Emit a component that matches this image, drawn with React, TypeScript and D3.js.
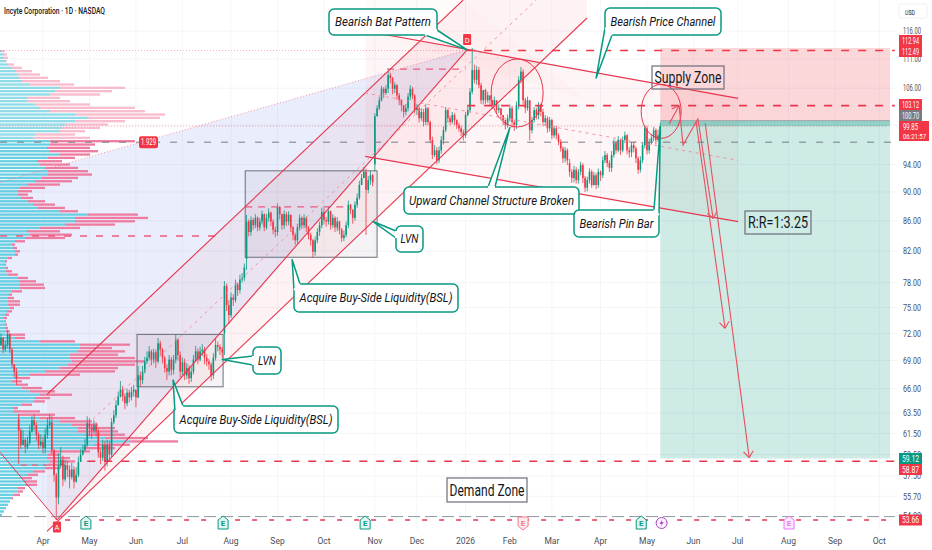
import React, { useEffect, useRef } from 'react'
import * as d3 from 'd3'

// daily closes, first bar sits 20 sessions before 1 Apr 2025
const firstBar = -20
const closes = [
  70.7,71.5,70.2,70.7,71.9,70.2,68.6,67.8,67.1,61.8,
  60.4,60.9,60.2,60.6,61.7,62.8,62.3,61.4,60.4,60.7,
  60.1,61.4,62.3,62.6,59.9,57.6,55.6,58.5,59.0,57.2,
  58.5,58.1,57.4,58.1,57.0,57.6,58.8,59.5,59.9,60.4,
  62.5,62.1,61.8,62.3,61.7,59.7,59.2,60.4,58.8,60.4,
  59.5,62.6,63.3,64.3,65.2,65.9,65.2,64.5,65.6,65.1,
  65.7,65.9,65.1,67.4,66.9,67.8,68.9,69.3,70.0,69.1,
  69.9,68.9,70.9,70.2,69.3,68.2,67.8,69.1,68.0,69.1,
  71.3,69.6,67.8,68.8,67.4,68.2,67.1,67.8,69.1,70.0,
  69.1,70.0,70.2,69.3,68.9,68.6,67.4,69.3,70.7,70.5,
  70.2,69.9,77.6,75.3,74.1,76.2,75.9,77.8,77.1,78.4,
  78.6,79.9,85.9,84.5,86.1,85.4,86.4,85.1,85.9,86.9,
  85.1,86.4,87.1,85.9,84.8,84.5,87.9,86.9,85.4,86.9,
  85.9,86.8,85.1,84.1,83.4,85.1,86.4,85.4,86.4,85.1,
  84.1,83.4,81.9,83.4,84.5,85.4,87.2,86.1,85.9,87.3,
  85.4,86.4,85.1,85.9,84.8,83.7,84.1,85.4,88.2,87.5,
  86.4,88.2,89.2,91.0,92.0,92.9,90.3,91.7,92.4,91.4,
  101.4,102.7,104.0,105.9,105.2,105.9,108.2,107.7,105.9,106.5,
  104.8,104.0,103.2,102.1,102.7,104.6,105.9,104.8,102.4,102.7,
  101.1,102.1,100.5,102.7,100.5,97.7,95.4,96.1,94.6,96.1,
  97.7,99.2,102.4,101.1,100.5,101.6,100.8,100.0,99.5,98.9,
  98.4,101.6,102.4,105.4,109.1,107.4,109.1,106.5,104.0,105.7,
  104.0,104.8,104.0,103.2,104.0,102.4,102.7,101.6,100.8,100.0,
  101.1,102.7,100.5,100.0,103.2,107.4,108.8,104.0,102.7,104.0,
  99.2,100.8,102.4,101.6,103.2,102.1,100.5,101.1,99.5,100.8,
  98.4,99.5,98.4,97.4,96.4,94.9,96.1,94.6,92.9,92.0,
  93.2,91.7,92.9,93.9,92.0,90.6,91.7,92.9,91.0,92.4,
  91.0,92.9,92.4,94.6,95.4,94.2,93.5,95.4,97.2,96.1,
  97.7,96.1,97.7,98.4,96.1,95.8,96.9,96.4,94.9,93.2,
  94.6,96.9,99.5,96.1,97.4,98.0,99.2,97.7,98.4,99.85,
]
const highs = [
  71.4,72.0,71.6,71.2,72.4,72.0,70.4,68.6,68.2,63.4,
  62.0,61.8,61.0,61.2,62.3,63.2,63.4,62.6,61.6,61.4,
  61.2,62.0,63.0,63.4,63.2,60.0,57.8,59.6,60.2,59.4,
  59.0,58.9,58.5,58.7,58.4,58.3,59.3,60.0,60.4,61.0,
  63.2,63.0,62.4,62.8,62.6,62.0,60.0,60.9,60.8,60.9,
  60.8,63.0,63.8,64.8,65.7,66.8,66.3,65.5,66.0,65.9,
  66.2,66.4,65.9,68.4,67.8,68.4,69.4,70.0,70.6,70.2,
  70.3,70.2,71.5,71.2,70.4,69.5,68.6,69.6,69.4,69.6,
  71.9,71.5,70.0,69.3,69.2,68.7,68.5,68.3,69.6,70.6,
  70.3,70.5,70.8,70.5,69.7,69.2,68.8,69.8,71.5,71.1,
  70.8,70.5,78.2,77.9,75.9,76.8,76.6,78.4,78.0,79.0,
  79.2,80.4,86.8,86.2,86.6,86.4,86.9,86.6,86.4,87.4,
  87.0,86.9,87.7,87.3,86.2,85.2,88.4,88.0,87.0,87.4,
  87.2,87.3,86.9,85.3,84.4,85.6,86.9,86.6,86.9,86.6,
  85.3,84.4,83.6,83.9,85.0,85.9,87.8,87.7,86.5,87.9,
  87.4,86.9,86.6,86.5,86.0,85.0,84.7,85.9,88.8,88.3,
  87.6,88.7,89.8,91.6,92.6,93.6,93.4,92.3,93.0,92.6,
  101.9,103.2,104.6,106.4,106.2,106.5,108.9,108.6,107.9,107.0,
  106.7,105.2,104.2,103.2,103.4,105.2,106.5,106.2,105.0,103.4,
  103.0,102.7,102.6,103.4,102.9,100.7,98.2,96.9,96.6,96.7,
  98.3,99.8,102.9,102.6,101.5,102.1,101.9,100.9,100.4,99.9,
  99.3,102.1,103.0,106.0,112.94,110.0,109.8,109.6,106.9,105.3,
  105.9,105.4,104.8,104.0,104.6,104.0,103.3,102.6,101.4,100.9,
  101.7,103.3,103.1,100.9,103.8,108.0,109.6,109.2,104.4,104.6,
  104.0,101.3,102.9,102.8,103.7,103.5,102.6,101.6,101.4,101.3,
  101.0,99.9,99.9,98.7,97.8,96.7,96.6,96.4,94.8,93.3,
  93.8,93.6,93.3,94.4,94.2,92.3,92.2,93.4,93.2,92.9,
  92.7,93.4,93.1,95.2,96.0,95.7,94.6,96.0,97.8,97.6,
  98.3,97.9,98.2,99.0,98.6,96.6,97.4,97.4,96.7,95.2,
  95.2,97.4,100.0,99.9,97.9,98.6,99.7,99.5,99.3,100.4,
]
const lows = [
  70.2,70.6,69.8,70.0,70.4,69.8,68.2,67.2,66.4,58.6,
  60.0,60.4,59.6,60.0,60.4,61.6,61.8,60.8,60.0,60.2,
  59.6,59.6,61.0,62.0,59.5,57.0,53.66,55.0,58.2,56.6,
  57.0,57.4,56.4,57.2,56.4,56.9,57.4,58.8,59.4,59.8,
  60.2,61.2,61.0,61.5,61.2,59.2,58.6,58.9,58.0,58.4,
  58.9,59.2,62.4,63.0,64.4,65.1,64.7,63.9,64.2,64.6,
  64.8,65.2,64.1,65.0,66.2,66.5,67.6,68.6,69.0,68.5,
  68.7,68.2,68.7,69.5,68.7,67.7,66.9,67.4,67.4,67.5,
  68.7,69.0,67.2,67.4,66.9,67.0,66.5,66.7,67.5,68.9,
  68.6,68.9,69.5,68.6,68.4,68.0,66.8,67.0,69.0,70.0,
  69.6,69.3,69.6,74.6,73.1,73.8,75.2,75.6,76.4,76.7,
  78.0,78.2,79.6,83.9,84.0,84.8,85.0,84.6,84.7,85.5,
  84.6,84.8,85.9,85.3,84.2,83.8,84.0,86.2,84.8,84.9,
  85.3,85.4,84.5,83.4,82.8,83.0,84.7,84.9,85.0,84.5,
  83.5,82.7,81.1,81.4,83.0,84.0,85.0,85.5,85.2,85.5,
  84.8,85.0,84.5,84.6,84.2,83.2,83.3,83.8,85.0,86.9,
  85.6,86.0,87.8,88.9,91.2,92.0,84.1,89.8,91.0,90.8,
  93.0,101.4,102.4,103.8,104.4,104.9,105.2,106.8,105.0,105.2,
  104.1,103.2,102.2,101.2,101.6,102.2,104.0,104.2,101.9,101.6,
  100.4,100.7,99.8,100.0,100.0,97.2,94.8,95.1,94.0,94.2,
  95.6,97.0,98.9,100.4,100.0,100.2,100.0,99.4,99.0,98.3,
  97.6,98.0,101.4,102.0,105.0,106.8,106.6,106.0,103.4,103.3,
  103.4,103.6,103.0,102.6,103.2,101.8,101.9,101.0,100.0,99.3,
  99.6,100.6,99.6,99.1,99.4,102.5,106.8,103.3,101.9,102.3,
  97.6,98.7,100.4,100.9,100.9,101.4,99.9,99.9,98.8,99.0,
  97.8,98.0,97.8,96.9,95.9,94.2,94.3,93.9,92.2,91.3,
  91.4,91.2,91.2,92.4,91.3,90.0,90.1,91.2,90.6,90.9,
  90.4,90.6,91.6,92.0,94.2,93.6,92.9,92.9,95.0,95.6,
  95.8,95.4,95.8,97.2,95.5,95.0,95.1,95.8,94.2,92.6,
  92.8,94.2,96.4,95.5,95.6,97.0,97.5,97.0,97.4,97.9,
]
// bars that opened away from the previous close: array position -> open
const gapOpens: Record<number, number> = { 9: 62.9, 102: 72.0, 112: 81.0, 170: 94.0, 258: 94.2 }

// visible range volume profile, top row first
const profileUp = [
  2,4,4,5,8,12,16,18,20,22,30,60,55,50,27,27,35,40,50,75,88,75,65,62,60,35,33,50,50,47,
  50,60,48,37,40,46,48,48,42,35,28,20,18,18,21,28,33,38,60,88,75,75,65,40,27,30,25,15,12,13,
  15,15,8,5,5,6,6,8,18,20,20,20,12,9,8,8,8,10,7,5,4,5,5,5,6,7,15,40,80,80,
  78,70,70,72,68,60,45,30,15,12,16,22,30,40,35,34,22,13,13,18,40,60,72,78,78,85,105,130,95,85,
  50,48,47,50,48,45,33,28,22,25,25,18,18,14,12,10,8,6,4,2,
]
const profileTotal = [
  5,7,8,7,14,22,32,40,48,60,74,125,112,100,60,70,90,135,145,165,160,125,108,100,85,75,90,135,95,90,
  98,90,75,62,70,78,88,92,78,72,60,45,32,28,33,45,55,65,78,138,148,135,115,80,60,72,65,25,15,17,
  20,18,12,7,6,8,12,18,28,36,44,45,22,12,14,20,20,14,12,9,7,6,7,8,10,25,25,75,130,112,
  125,118,135,145,135,118,115,80,30,22,28,42,55,72,50,45,32,18,40,55,75,92,98,115,118,125,148,178,130,115,
  90,60,70,75,65,60,45,38,32,37,37,25,23,20,13,10,8,6,4,2,
]
const valueAreaStart = 27

const priceTicks = [116, 111, 106, 94, 90, 86, 82, 78, 75, 72, 69, 66, 63.5, 61.5, 59.5, 57.5, 55.7, 54]
const gridPrices = [116, 111, 106, 100, 94, 90, 86, 82, 78, 75, 72, 69, 66, 63.5, 61.5, 59.5, 57.5, 55.7]
const timeBars = [0, 21, 42, 63, 85, 106, 127, 150, 169, 191, 211, 230, 252, 273, 294, 314, 337, 358, 378]
const timeLabels = ['Apr', 'May', 'Jun', 'Jul', 'Aug', 'Sep', 'Oct', 'Nov', 'Dec', '2026', 'Feb', 'Mar', 'Apr', 'May', 'Jun', 'Jul', 'Aug', 'Sep', 'Oct']

const UP = '#089981'
const DOWN = '#f23645'
const LINE = '#e8364f'

const callouts = [
  { text: 'Bearish Bat Pattern', box: [329, 9, 108, 26], tl: 96, tip: [191.7, 112.6], base: [[425, 35], [437, 30]] },
  { text: 'Bearish Price Channel', box: [605, 8, 116, 27], tl: 105, tip: [250, 107.7], base: [[605, 28], [612, 35]] },
  { text: 'Acquire Buy-Side Liquidity(BSL)', box: [294, 284, 164, 28], tl: 153, tip: [112.6, 80.9], base: [[294, 290], [300, 284]] },
  { text: 'Acquire Buy-Side Liquidity(BSL)', box: [174, 406, 164, 27], tl: 153, tip: [58.8, 66.9], base: [[175, 412], [183, 406]] },
  { text: 'LVN', box: [396, 226, 27, 26], tl: 18, tip: [149.2, 85.9], base: [[396, 231], [396, 238]] },
  { text: 'LVN', box: [253, 347, 28, 27], tl: 18, tip: [81, 69.1], base: [[253, 356], [253, 365]] },
  { text: 'Upward Channel Structure Broken', box: [404, 187, 175, 27], tl: 165, tip: [211, 99.6], base: [[488, 187], [495, 187]] },
  { text: 'Bearish Pin Bar', box: [574, 210, 85, 27], tl: 74, tip: [279, 99.7], base: [[654, 210], [659, 215]] },
]
const zoneLabels = [
  { text: 'Supply Zone', box: [652, 66, 72, 23], tl: 67, fill: 'none' },
  { text: 'R:R=1:3.25', box: [745, 211, 66, 23], tl: 60, fill: 'none' },
  { text: 'Demand Zone', box: [447, 478, 80, 24], tl: 75, fill: '#fff' },
]
const priceTags = [
  { text: '112.94', y: 40.5, fill: DOWN },
  { text: '112.49', y: 51.5, fill: DOWN },
  { text: '103.12', y: 104.5, fill: DOWN },
  { text: '100.70', y: 115.5, fill: '#787b86' },
  { text: '59.12', y: 458.5, fill: UP },
  { text: '58.87', y: 469.5, fill: DOWN },
  { text: '53.66', y: 520, fill: DOWN },
]
const earnings = [
  { bar: 19.4, stroke: '#089981', fill: '#e3f4f1', flip: false },
  { bar: 81.4, stroke: '#089981', fill: '#e3f4f1', flip: false },
  { bar: 145.6, stroke: '#089981', fill: '#e3f4f1', flip: false },
  { bar: 217, stroke: '#f7768a', fill: '#fdecee', flip: true },
  { bar: 270.4, stroke: '#089981', fill: '#e3f4f1', flip: false },
  { bar: 337.2, stroke: '#e879f0', fill: '#fbeafd', flip: false },
]

const App: React.FC = () => {
  const ref = useRef<HTMLDivElement>(null)

  useEffect(() => {
    if (!ref.current) return
    document.body.style.margin = '0'
    const width = 932
    const height = 550
    const svg = d3.select(ref.current).append('svg')
      .attr('width', width).attr('height', height)
      .style('display', 'block').style('background', '#fff')
      .style('font-family', 'Roboto, sans-serif')

    const x = d3.scaleLinear().domain([0, 273]).range([43, 647])
    const y = d3.scaleLog().domain([116, 53.66]).range([31, 520])
    const chartRight = 897
    const pt = (p: number[]): [number, number] => [x(p[0]), y(p[1])]
    const poly = (pts: number[][], fill: string) =>
      svg.append('polygon').attr('points', pts.map(p => pt(p).join(',')).join(' ')).attr('fill', fill)
    const seg = (a: number[], b: number[], stroke: string, w = 1, dash?: string) =>
      svg.append('line').attr('x1', x(a[0])).attr('y1', y(a[1])).attr('x2', x(b[0])).attr('y2', y(b[1]))
        .attr('stroke', stroke).attr('stroke-width', w).attr('stroke-dasharray', dash ?? null)
    const hline = (price: number, b0: number, b1: number, stroke: string, w: number, dash: string) =>
      seg([b0, price], [b1, price], stroke, w, dash)

    // grid
    gridPrices.forEach(p => {
      svg.append('line').attr('x1', 0).attr('x2', chartRight).attr('y1', y(p)).attr('y2', y(p))
        .attr('stroke', '#f3f4f8').attr('stroke-width', 1)
    })
    timeBars.forEach(b => {
      svg.append('line').attr('x1', x(b)).attr('x2', x(b)).attr('y1', 0).attr('y2', 530)
        .attr('stroke', '#f5f6f9').attr('stroke-width', 1)
    })

    // bat pattern fill
    poly([[-19.4, 91.4], [191.7, 112.6], [6.3, 53.66], [-19.4, 59.7]], 'rgba(50,90,230,0.1)')
    // rising channel fill
    poly([[1.8, 65.4], [189.9, 121.8], [245.9, 121.8], [245.9, 118.4], [1.8, 52.7]], 'rgba(242,54,69,0.06)')
    // falling channel fill
    poly([[145.6, 121.8], [189.9, 121.8], [245.9, 104], [145.6, 116]], 'rgba(242,54,69,0.02)')
    poly([[145.6, 116], [314.2, 104.3], [314.2, 85.9], [145.6, 95.2]], 'rgba(242,54,69,0.05)')

    // volume profile
    const rows = d3.scaleBand<number>().domain(d3.range(profileTotal.length)).range([50, 517])
    const vol = d3.scaleLinear().domain([0, 178]).range([0, 178])
    profileTotal.forEach((t, i) => {
      const yy = rows(i)!
      const light = i < valueAreaStart
      svg.append('rect').attr('x', 0).attr('y', yy).attr('width', vol(profileUp[i])).attr('height', 2.3)
        .attr('fill', light ? '#8fdbe8' : '#68cfe2')
      svg.append('rect').attr('x', vol(profileUp[i])).attr('y', yy).attr('width', vol(t - profileUp[i])).attr('height', 2.3)
        .attr('fill', light ? '#f8bccd' : '#ee7ca1')
    })

    // long position tool
    const posL = x(279)
    const posR = 890
    svg.append('rect').attr('x', posL).attr('y', y(112.94)).attr('width', posR - posL).attr('height', y(100.7) - y(112.94)).attr('fill', 'rgba(242,54,69,0.2)')
    svg.append('rect').attr('x', posL).attr('y', y(100.7)).attr('width', posR - posL).attr('height', y(59.12) - y(100.7)).attr('fill', 'rgba(8,153,129,0.2)')
    svg.append('rect').attr('x', posL).attr('y', y(100.7)).attr('width', posR - posL).attr('height', y(99.85) - y(100.7)).attr('fill', 'rgba(8,153,129,0.3)')
    svg.append('line').attr('x1', posL).attr('x2', posR).attr('y1', y(100.7)).attr('y2', y(100.7)).attr('stroke', '#9aa0a6').attr('stroke-width', 1)

    // liquidity boxes
    ;[[42.5, 71.9, 81.4, 66.2], [91.4, 93.05, 151, 81.2]].forEach(b => {
      const [px0, py0] = pt([b[0], b[1]])
      const [px1, py1] = pt([b[2], b[3]])
      svg.append('rect').attr('x', px0).attr('y', py0).attr('width', px1 - px0).attr('height', py1 - py0)
        .attr('fill', 'rgba(110,90,110,0.07)').attr('stroke', '#6b6f7a').attr('stroke-width', 1)
    })

    // candles
    const bars = svg.append('g')
    closes.forEach((c, k) => {
      const o = gapOpens[k] ?? (k === 0 ? c : closes[k - 1])
      const cx = x(firstBar + k)
      const color = c >= o ? UP : DOWN
      bars.append('line').attr('x1', cx).attr('x2', cx)
        .attr('y1', y(Math.max(highs[k], o, c))).attr('y2', y(Math.min(lows[k], o, c)))
        .attr('stroke', color).attr('stroke-width', 0.8)
      const top = y(Math.max(o, c))
      bars.append('rect').attr('x', cx - 0.8).attr('y', top).attr('width', 1.6)
        .attr('height', Math.max(1, y(Math.min(o, c)) - top)).attr('fill', color)
    })

    // level lines
    hline(112.49, 191.7, 385, DOWN, 1.6, '8 9')
    hline(103.12, 191.7, 385, LINE, 1.6, '8 9')
    hline(58.87, 20, 385, LINE, 1.6, '8 9')
    hline(53.66, 10, 385, LINE, 1.6, '5 12')
    seg([-19.4, 53.95], [385, 53.95], '#787b86', 0.8, '12 5')
    hline(97.35, -19.4, 385, '#787b86', 1, '7 10')
    hline(83.95, -19.4, 79, '#ec5a7d', 1.5, '7 9')
    hline(109.25, 155.5, 191, '#ec5a7d', 1.2, '7 6')
    hline(87.9, 91.4, 136, '#ec5a7d', 1.2, '7 6')
    hline(58.5, -10, 2, '#ec5a7d', 1.2, '6 5')
    hline(112.49, -19.4, 191.7, DOWN, 0.6, '1 2').attr('opacity', 0.7)
    hline(99.85, -19.4, 382, DOWN, 0.6, '1 2').attr('opacity', 0.7)

    // pattern and channel lines
    seg([-19.4, 91.4], [191.7, 112.6], '#f0798c', 0.8, '1 2')
    seg([-19.4, 59.7], [6.3, 53.66], LINE, 1)
    seg([6.3, 53.66], [191.7, 112.6], LINE, 1.1)
    seg([1.8, 65.4], [189.9, 121.8], LINE, 1.1)
    seg([1.8, 52.7], [245.9, 118.4], LINE, 1.1)
    seg([22.6, 62.9], [222.9, 121.8], '#f08a9b', 0.9, '3 4')
    seg([145.6, 116], [314.2, 104.3], LINE, 1.2)
    seg([145.6, 95.2], [314.2, 85.9], LINE, 1.2)
    seg([145.6, 105.2], [314.2, 94.6], '#f08a9b', 0.9, '3 4')

    // circles
    ;[[214.3, 105.2, 26, 34], [279.4, 102.2, 20, 27]].forEach(c => {
      svg.append('ellipse').attr('cx', x(c[0])).attr('cy', y(c[1])).attr('rx', c[2]).attr('ry', c[3])
        .attr('fill', 'none').attr('stroke', LINE).attr('stroke-width', 1)
    })

    // projected path arrows
    const arrow = (pts: number[][]) => {
      const line = d3.line<number[]>().x(p => x(p[0])).y(p => y(p[1]))
      svg.append('path').attr('d', line(pts)).attr('fill', 'none').attr('stroke', '#e8505f').attr('stroke-width', 1.1)
      const [ax, ay] = pt(pts[pts.length - 2])
      const [bx, by] = pt(pts[pts.length - 1])
      const ang = Math.atan2(by - ay, bx - ax)
      ;[-0.65, 0.65].forEach(d => {
        svg.append('line').attr('x1', bx).attr('y1', by)
          .attr('x2', bx - 8 * Math.cos(ang + d)).attr('y2', by - 8 * Math.sin(ang + d))
          .attr('stroke', '#e8505f').attr('stroke-width', 1.1)
      })
    }
    arrow([[283, 100.2], [287.5, 103.1]])
    arrow([[287.5, 103.1], [289.3, 96.9], [296, 101], [302.9, 86.3]])
    arrow([[295.2, 100.5], [308.3, 72.6]])
    arrow([[299.3, 100.3], [319.2, 59.2]])

    // bottom event markers
    earnings.forEach(e => {
      const g = svg.append('g').attr('transform', `translate(${x(e.bar)},523)`)
      const d = e.flip ? 'M-5,-6H5V3L0,7L-5,3Z' : 'M0,-7L5,-3V6H-5V-3Z'
      g.append('path').attr('d', d).attr('fill', e.fill).attr('stroke', e.stroke).attr('stroke-width', 1)
      g.append('text').attr('text-anchor', 'middle').attr('y', 3).attr('font-size', 8).attr('font-weight', 700)
        .attr('fill', e.stroke).text('E')
    })
    const bolt = svg.append('g').attr('transform', `translate(${x(279.6)},523)`)
    bolt.append('circle').attr('r', 5.5).attr('fill', '#fbf0fd').attr('stroke', '#ab47bc').attr('stroke-width', 1)
    bolt.append('path').attr('d', 'M1,-4L-2,1H0L-1,4L2,-1H0Z').attr('fill', '#ab47bc')

    // pattern point tags
    ;[{ t: 'D', b: 191.7, yy: 39.5 }, { t: 'A', b: 6.3, yy: 527 }].forEach(l => {
      svg.append('rect').attr('x', x(l.b) - 4).attr('y', l.yy - 5.5).attr('width', 8).attr('height', 11).attr('rx', 1).attr('fill', DOWN)
      svg.append('text').attr('x', x(l.b)).attr('y', l.yy + 3).attr('text-anchor', 'middle').attr('font-size', 7.5).attr('fill', '#fff').text(l.t)
    })

    // poc value tag
    svg.append('rect').attr('x', 139).attr('y', y(97.35) - 6).attr('width', 19).attr('height', 12).attr('rx', 2).attr('fill', DOWN)
    svg.append('text').attr('x', 148.5).attr('y', y(97.35) + 3).attr('text-anchor', 'middle').attr('font-size', 8.5).attr('fill', '#fff')
      .attr('textLength', 15).attr('lengthAdjust', 'spacingAndGlyphs').text('1.929')

    // teal callouts
    callouts.forEach(c => {
      const [bx, by, bw, bh] = c.box
      const [tx, ty] = pt(c.tip)
      svg.append('rect').attr('x', bx).attr('y', by).attr('width', bw).attr('height', bh).attr('rx', 5)
        .attr('fill', '#fff').attr('stroke', UP).attr('stroke-width', 1.5)
      svg.append('path').attr('d', `M${c.base[0].join(',')}L${tx},${ty}L${c.base[1].join(',')}`)
        .attr('fill', '#fff').attr('stroke', UP).attr('stroke-width', 1.5).attr('stroke-linejoin', 'round')
      svg.append('line').attr('x1', c.base[0][0]).attr('y1', c.base[0][1]).attr('x2', c.base[1][0]).attr('y2', c.base[1][1])
        .attr('stroke', '#fff').attr('stroke-width', 2)
      svg.append('text').attr('x', bx + bw / 2).attr('y', by + bh / 2 + 4.2).attr('text-anchor', 'middle')
        .attr('font-size', 12).attr('font-style', 'italic').attr('fill', '#131722')
        .attr('textLength', c.tl).attr('lengthAdjust', 'spacingAndGlyphs').text(c.text)
    })

    // plain zone labels
    zoneLabels.forEach(z => {
      const [bx, by, bw, bh] = z.box
      svg.append('rect').attr('x', bx).attr('y', by).attr('width', bw).attr('height', bh)
        .attr('fill', z.fill).attr('stroke', '#6b6f7a').attr('stroke-width', 1.2)
      svg.append('text').attr('x', bx + bw / 2).attr('y', by + bh / 2 + 5.5).attr('text-anchor', 'middle')
        .attr('font-size', 16).attr('fill', '#131722')
        .attr('textLength', z.tl).attr('lengthAdjust', 'spacingAndGlyphs').text(z.text)
    })

    // price axis
    svg.append('rect').attr('x', 899).attr('y', 4).attr('width', 28).attr('height', 14).attr('rx', 2)
      .attr('fill', '#fff').attr('stroke', '#f0f1f4')
    svg.append('text').attr('x', 905).attr('y', 15).attr('font-size', 8).attr('fill', '#131722').attr('textLength', 10).attr('lengthAdjust', 'spacingAndGlyphs').text('USD')
    const fmt = d3.format('.2f')
    priceTicks.forEach(p => {
      svg.append('text').attr('x', 903).attr('y', y(p) + 3.2).attr('font-size', 8.5).attr('fill', '#4a4e59')
        .attr('textLength', 18).attr('lengthAdjust', 'spacingAndGlyphs').text(fmt(p))
    })
    priceTags.forEach(t => {
      svg.append('rect').attr('x', 899).attr('y', t.y - 5.5).attr('width', 23).attr('height', 11).attr('fill', t.fill)
      svg.append('text').attr('x', 910.5).attr('y', t.y + 3.2).attr('text-anchor', 'middle').attr('font-size', 8.5).attr('fill', '#fff')
        .attr('textLength', 17).attr('lengthAdjust', 'spacingAndGlyphs').text(t.text)
    })
    svg.append('rect').attr('x', 899).attr('y', 121).attr('width', 30).attr('height', 20).attr('fill', DOWN)
    svg.append('text').attr('x', 903).attr('y', 130).attr('font-size', 8.5).attr('fill', '#fff').attr('textLength', 15).attr('lengthAdjust', 'spacingAndGlyphs').text('99.85')
    svg.append('text').attr('x', 903).attr('y', 139).attr('font-size', 7.5).attr('fill', '#fff').attr('textLength', 23).attr('lengthAdjust', 'spacingAndGlyphs').text('06:21:57')

    // time axis
    timeBars.forEach((b, i) => {
      svg.append('text').attr('x', x(b)).attr('y', 544).attr('text-anchor', 'middle').attr('font-size', 8.5).attr('fill', '#4a4e59').text(timeLabels[i])
    })

    // title
    svg.append('text').attr('x', 4).attr('y', 14).attr('font-size', 8.5).attr('font-weight', 500).attr('fill', '#131722')
      .attr('textLength', 101).attr('lengthAdjust', 'spacingAndGlyphs').text('Incyte Corporation · 1D · NASDAQ')

    return () => { svg.remove() }
  }, [])

  return <div ref={ref} style={{ width: 932, height: 550 }} />
}

export default App
